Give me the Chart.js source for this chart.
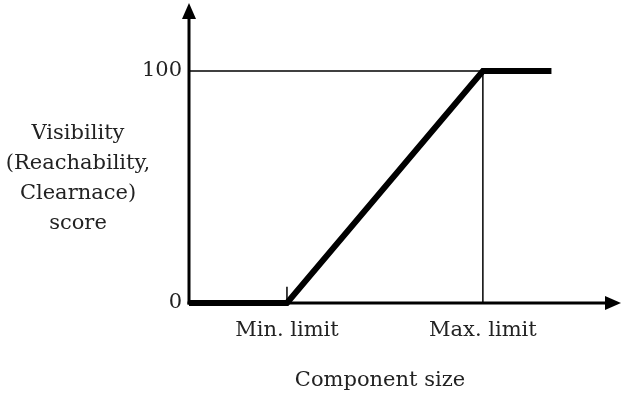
<!DOCTYPE html>
<html>
<head>
<meta charset="utf-8">
<script src="https://cdn.jsdelivr.net/npm/chart.js@4/dist/chart.umd.min.js"></script>
<style>
  html, body { margin: 0; padding: 0; background: #fff; }
  #wrap { width: 626px; height: 393px; position: relative; }
</style>
</head>
<body>
<div id="wrap"><canvas id="c" width="626" height="393"></canvas></div>
<script>
// ---- data ----
const sizeX = [0, 1, 3, 3.7];          // component size (arbitrary units)
const scoreY = [0, 0, 100, 100];       // visibility score
const xTickValues = [1, 3];
const xTickLabels = ['Min. limit', 'Max. limit'];
const yTickValues = [0, 100];
const yTickLabels = ['0', '100'];
const yTitleLines = ['Visibility', '(Reachability,', 'Clearnace)', 'score'];
const xTitle = 'Component size';
const refHX = [0, 3], refHY = [100, 100];     // horizontal guide at 100
const refVX = [3, 3], refVY = [0, 100];       // vertical guide at max limit
const minTickX = [1, 1], minTickY = [0, 7];   // small mark at min limit

const FONT = '"DejaVu Serif", "Liberation Serif", serif';
const TXT = '#222';

function pts(xs, ys) { return xs.map((x, i) => ({ x: x, y: ys[i] })); }

const axesPlugin = {
  id: 'axesPlugin',
  beforeDatasetsDraw(chart) {
    const ctx = chart.ctx, xs = chart.scales.x, ys = chart.scales.y;
    const x0 = xs.getPixelForValue(0), y0 = ys.getPixelForValue(0);
    const xEnd = xs.getPixelForValue(xs.max), yTop = ys.getPixelForValue(ys.max);
    ctx.save();
    ctx.strokeStyle = '#000'; ctx.fillStyle = '#000'; ctx.lineWidth = 3;
    // y axis
    ctx.beginPath(); ctx.moveTo(x0, y0 + 1.5); ctx.lineTo(x0, yTop + 14); ctx.stroke();
    ctx.beginPath(); ctx.moveTo(x0, yTop); ctx.lineTo(x0 - 7, yTop + 16); ctx.lineTo(x0 + 7, yTop + 16); ctx.closePath(); ctx.fill();
    // x axis
    ctx.beginPath(); ctx.moveTo(x0 - 1.5, y0); ctx.lineTo(xEnd - 14, y0); ctx.stroke();
    ctx.beginPath(); ctx.moveTo(xEnd, y0); ctx.lineTo(xEnd - 16, y0 - 7); ctx.lineTo(xEnd - 16, y0 + 7); ctx.closePath(); ctx.fill();
    ctx.restore();
  },
  afterDraw(chart) {
    const ctx = chart.ctx, xs = chart.scales.x, ys = chart.scales.y;
    const x0 = xs.getPixelForValue(0), y0 = ys.getPixelForValue(0);
    ctx.save();
    ctx.fillStyle = TXT;
    ctx.font = '21px ' + FONT;
    ctx.textBaseline = 'middle';
    // y tick labels
    ctx.textAlign = 'right';
    yTickValues.forEach((v, i) => ctx.fillText(yTickLabels[i], x0 - 7, ys.getPixelForValue(v)));
    // x tick labels
    ctx.textAlign = 'center';
    xTickValues.forEach((v, i) => ctx.fillText(xTickLabels[i], xs.getPixelForValue(v), y0 + 28));
    // x title
    ctx.fillText(xTitle, 380, y0 + 78);
    // y title (horizontal, multi-line)
    yTitleLines.forEach((t, i) => ctx.fillText(t, 78, 134 + i * 30));
    ctx.restore();
  }
};

new Chart(document.getElementById('c'), {
  type: 'scatter',
  data: {
    datasets: [
      { data: pts(refHX, refHY), showLine: true, borderColor: '#000', borderWidth: 1.5, pointRadius: 0, clip: false },
      { data: pts(refVX, refVY), showLine: true, borderColor: '#000', borderWidth: 1.5, pointRadius: 0, clip: false },
      { data: pts(minTickX, minTickY), showLine: true, borderColor: '#000', borderWidth: 1.5, pointRadius: 0, clip: false },
      { data: pts(sizeX, scoreY), showLine: true, borderColor: '#000', borderWidth: 6, pointRadius: 0,
        borderJoinStyle: 'miter', borderCapStyle: 'butt', clip: false }
    ]
  },
  options: {
    responsive: false,
    animation: false,
    devicePixelRatio: 1,
    layout: { padding: { left: 189, right: 5, top: 3, bottom: 90 } },
    plugins: { legend: { display: false }, tooltip: { enabled: false } },
    scales: {
      x: { type: 'linear', min: 0, max: 4.41, display: false },
      y: { type: 'linear', min: 0, max: 129.3, display: false }
    }
  },
  plugins: [axesPlugin]
});
</script>
</body>
</html>
